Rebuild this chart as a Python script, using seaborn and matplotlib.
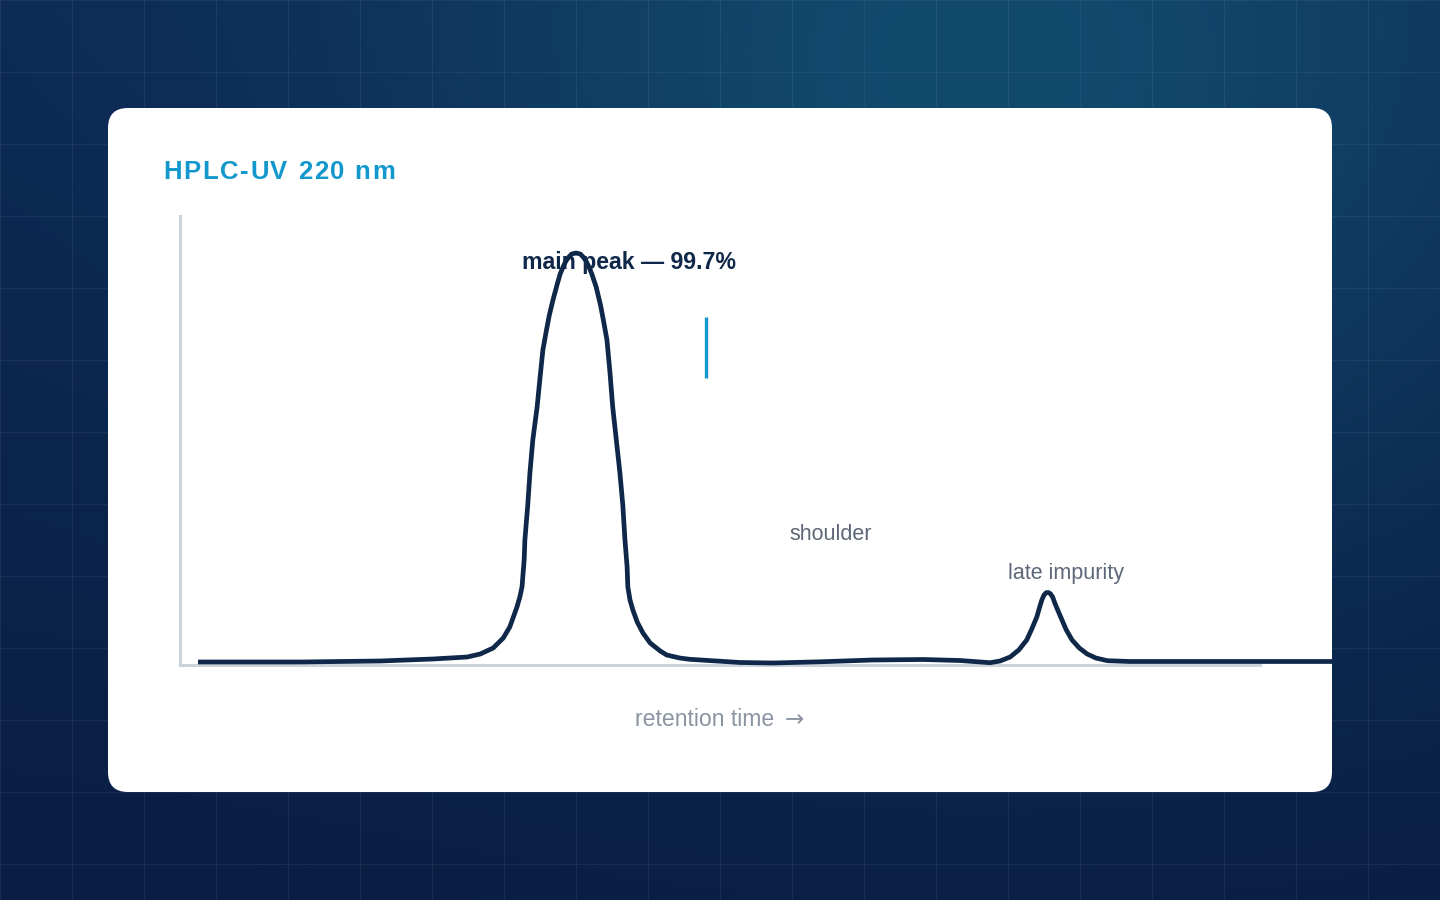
import numpy as np
import pandas as pd
import matplotlib
matplotlib.use("Agg")
import matplotlib.pyplot as plt
import seaborn as sns
from matplotlib.patches import FancyBboxPatch

# ---------------- data ----------------
# retention time (arbitrary minutes) and detector signal (mAU)
rt = [0.25, 1.67, 2.78, 3.51, 3.99, 4.17, 4.35, 4.49, 4.58, 4.68, 4.72, 4.75,
      4.78, 4.79, 4.83, 4.86, 4.90, 4.96, 5.00, 5.04, 5.09, 5.13, 5.18, 5.24,
      5.28, 5.32, 5.36, 5.40, 5.44, 5.50,
      5.56, 5.60, 5.64, 5.68, 5.72, 5.78, 5.84, 5.88, 5.93, 5.97, 6.01, 6.06,
      6.11, 6.15, 6.18, 6.21, 6.22,
      6.25, 6.29, 6.35, 6.43, 6.53, 6.67, 6.76, 6.94, 7.08, 7.78, 8.24,
      8.93, 9.62, 10.32, 10.83, 11.25, 11.39, 11.53, 11.65, 11.76, 11.83,
      11.90, 11.94, 11.97, 12.00, 12.03, 12.06, 12.09, 12.12, 12.15, 12.19,
      12.25, 12.31, 12.39, 12.49, 12.60, 12.72, 12.88, 13.19, 14.17, 16.00]
signal = [3.0, 3.0, 4.0, 6.0, 8.0, 11.0, 17.0, 27.0, 38.0, 58.0, 68.0, 78.0,
          105.0, 125.0, 160.0, 192.0, 225.0, 258.0, 287.0, 315.0, 335.0, 350.0, 365.0, 381.0,
          391.0, 398.0, 404.0, 408.0, 411.0, 412.0,
          411.0, 408.0, 404.0, 398.0, 391.0, 378.0, 360.0, 345.0, 325.0, 294.0, 258.0, 225.0,
          192.0, 160.0, 125.0, 98.0, 78.0,
          65.0, 55.0, 43.0, 32.0, 22.0, 14.0, 10.0, 7.0, 5.7, 2.5, 2.0,
          3.3, 5.0, 5.5, 4.5, 2.3, 4.0, 8.0, 15.0, 25.0, 36.0,
          48.0, 58.0, 65.0, 70.0, 72.3, 72.5, 71.2, 68.0, 62.0, 55.0,
          45.0, 35.0, 25.0, 17.0, 11.0, 7.0, 4.3, 3.5, 3.5, 3.5]

label_texts = ["main peak \u2014 99.7%", "shoulder", "late impurity"]
shoulder_marker = {"rt": 7.31, "low": 287.0, "high": 348.0}

title_text = "HPLC-UV 220 nm"
xlabel_text = "retention time"
xlabel_arrow = "\u2192"

df = pd.DataFrame({"rt": rt, "signal": signal})

# ---------------- styling ----------------
W, H, DPI = 1440, 900, 100
sns.set_theme(style="white")
plt.rcParams["font.family"] = ["Liberation Sans", "DejaVu Sans"]

NAVY = "#0f2748"
CYAN = "#1298cc"
SPINE = "#cdd3da"
GRAY = "#5d6778"
LIGHTGRAY = "#8b94a2"

fig = plt.figure(figsize=(W / DPI, H / DPI), dpi=DPI)

# background gradient + grid
bg = fig.add_axes([0, 0, 1, 1], zorder=-10)
yy, xx = np.mgrid[0:H, 0:W].astype(float)
top = np.array([0x0d, 0x2a, 0x55]) / 255
bot = np.array([0x0a, 0x1e, 0x43]) / 255
light = np.array([0x12, 0x4a, 0x6e]) / 255
t = (yy / H)[..., None]
base = top * (1 - t) + bot * t
w = np.exp(-(((xx - 980) ** 2) / (2 * 400 ** 2) + ((yy - 60) ** 2) / (2 * 340 ** 2)))[..., None]
img = base * (1 - w) + light * w
bg.imshow(img, extent=(0, W, H, 0), aspect="auto", interpolation="bilinear")
for gx in np.arange(0, W + 1, 72):
    bg.axvline(gx, color="white", alpha=0.06, lw=0.8)
for gy in np.arange(0, H + 1, 72):
    bg.axhline(gy, color="white", alpha=0.06, lw=0.8)
card = FancyBboxPatch((108 + 20, 108 + 20), 1224 - 40, 684 - 40,
                      boxstyle="round,pad=20", facecolor="white", edgecolor="none")
bg.add_patch(card)
bg.set_xlim(0, W)
bg.set_ylim(H, 0)
bg.axis("off")

# main axes: pixel box x 180..1332, y 216..665
ax = fig.add_axes([180 / W, (H - 665) / H, (1332 - 180) / W, (665 - 216) / H])
ax.set_facecolor("none")
sns.lineplot(data=df, x="rt", y="signal", ax=ax, color=NAVY, linewidth=3.4,
             sort=False, estimator=None)
for ln in ax.get_lines():
    ln.set_solid_joinstyle("round")
    ln.set_solid_capstyle("butt")
    ln.set_clip_on(False)
ax.set_xlim(0, 16)
ax.set_ylim(0, 449)
ax.set_xticks([])
ax.set_yticks([])
ax.set_xlabel("")
ax.set_ylabel("")
for s in ["top", "right"]:
    ax.spines[s].set_visible(False)
for s in ["left", "bottom"]:
    ax.spines[s].set_color(SPINE)
    ax.spines[s].set_linewidth(2.2)
    ax.spines[s].set_zorder(0.5)
ax.spines["bottom"].set_bounds(0, 15)

# shoulder marker
ax.plot([shoulder_marker["rt"], shoulder_marker["rt"]],
        [shoulder_marker["low"], shoulder_marker["high"]], color=CYAN, lw=2.4,
        solid_capstyle="butt")

# labels
ax.text(4.75, 402, label_texts[0], ha="left", va="center", fontsize=16.7,
        fontweight="bold", color=NAVY, zorder=5)
ax.text(8.46, 131, label_texts[1], ha="left", va="center", fontsize=15.5,
        color=GRAY, zorder=5)
ax.text(11.5, 91, label_texts[2], ha="left", va="center", fontsize=15.5,
        color=GRAY, zorder=5)

fig.text(635 / W, 1 - 719 / H, xlabel_text, ha="left", va="center",
         fontsize=16.6, color=LIGHTGRAY)
fig.text(794 / W, 1 - 720 / H, xlabel_arrow, ha="center", va="center",
         fontsize=16.6, color=LIGHTGRAY, family="DejaVu Sans")

# title with letter spacing
renderer = fig.canvas.get_renderer()
tx = 163.0
ty = 1 - 172 / H
spacing = 1.7
TFS = 18.5
def _w(s):
    tt = fig.text(0, 0, s, fontsize=TFS, fontweight="bold")
    wd = tt.get_window_extent(renderer).width
    tt.remove()
    return wd
space_w = _w("a a") - _w("aa")
for ch in title_text:
    fig.text(tx / W, ty, ch, ha="left", va="center", fontsize=TFS,
             fontweight="bold", color=CYAN)
    cw = space_w if ch == " " else _w(ch)
    tx += cw + spacing

fig.savefig("out.png", dpi=DPI)
